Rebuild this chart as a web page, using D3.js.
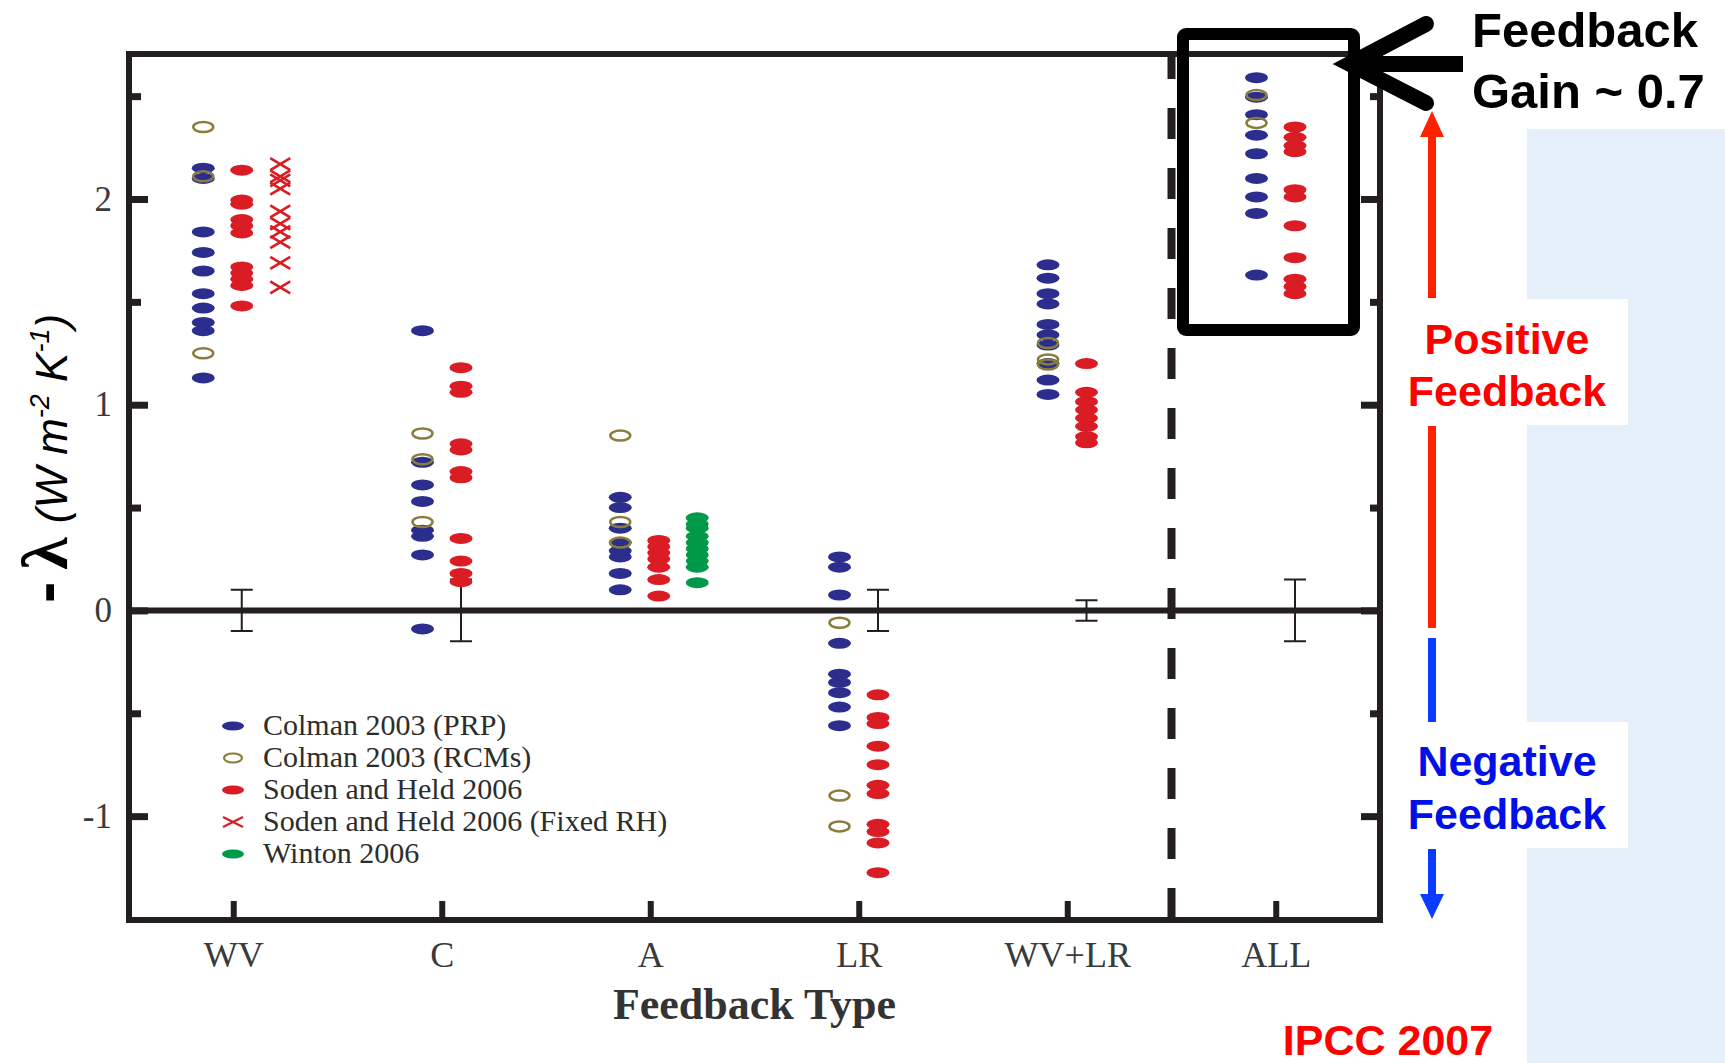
<!DOCTYPE html>
<html>
<head>
<meta charset="utf-8">
<script src="https://cdn.jsdelivr.net/npm/d3@7"></script>
<style>
  body { margin: 0; background: #fff; }
  svg { display: block; }
</style>
</head>
<body>
<div id="chart"></div>
<script>
const width = 1725, height = 1063;

const categories = ['WV', 'C', 'A', 'LR', 'WV+LR', 'ALL'];

// one inner array per category, same order as categories
const colmanPRP = [
  [2.15, 2.10, 1.84, 1.74, 1.65, 1.54, 1.47, 1.40, 1.36, 1.13],
  [1.36, 0.72, 0.61, 0.53, 0.39, 0.36, 0.27, -0.09],
  [0.55, 0.50, 0.40, 0.33, 0.29, 0.26, 0.18, 0.10],
  [0.26, 0.21, 0.075, -0.16, -0.31, -0.35, -0.40, -0.47, -0.56],
  [1.68, 1.615, 1.54, 1.49, 1.39, 1.34, 1.29, 1.20, 1.12, 1.05],
  [2.59, 2.495, 2.41, 2.31, 2.22, 2.10, 2.01, 1.93, 1.63]
];
const colmanRCM = [
  [2.35, 2.11, 1.25],
  [0.86, 0.735, 0.43],
  [0.85, 0.43, 0.33],
  [-0.06, -0.90, -1.05],
  [1.30, 1.22, 1.195],
  [2.505, 2.37]
];
const sodenHeld = [
  [2.14, 1.995, 1.975, 1.90, 1.87, 1.835, 1.67, 1.64, 1.61, 1.58, 1.48],
  [1.18, 1.09, 1.06, 0.81, 0.78, 0.675, 0.645, 0.35, 0.24, 0.18, 0.14],
  [0.34, 0.31, 0.28, 0.25, 0.21, 0.15, 0.07],
  [-0.41, -0.52, -0.55, -0.66, -0.75, -0.85, -0.89, -1.04, -1.075, -1.13, -1.275],
  [1.20, 1.06, 1.015, 0.975, 0.935, 0.895, 0.845, 0.815],
  [2.35, 2.30, 2.26, 2.23, 2.045, 2.01, 1.87, 1.715, 1.61, 1.575, 1.54]
];
const sodenHeldFixedRH = [
  [2.17, 2.11, 2.09, 2.05, 1.94, 1.88, 1.84, 1.79, 1.69, 1.57],
  [], [], [], [], []
];
const winton = [
  [], [],
  [0.45, 0.42, 0.40, 0.36, 0.33, 0.30, 0.27, 0.24, 0.21, 0.135],
  [], [], []
];
// half width of the error bar for each category (null = none)
const errorHalf = [0.1, 0.15, null, 0.1, 0.05, 0.15];

const majorTicks = [-1, 0, 1, 2];
const minorTicks = [-0.5, 0.5, 1.5, 2.5];

const legendLabels = [
  'Colman 2003 (PRP)',
  'Colman 2003 (RCMs)',
  'Soden and Held 2006',
  'Soden and Held 2006 (Fixed RH)',
  'Winton 2006'
];

const col = {
  blue: '#2b2e8c', olive: '#8b7c3c', red: '#da1c24', green: '#00994a',
  axis: '#231f20', label: '#3a3a3a'
};

const fLeft = 129, fRight = 1380, fTop = 54, fBottom = 920;

const svg = d3.select('#chart').append('svg')
  .attr('width', width)
  .attr('height', height);

const x = d3.scalePoint()
  .domain(categories)
  .range([fLeft, fRight])
  .padding(0.5);

const y = d3.scaleLinear()
  .domain([-1.5, 2.7])
  .range([fBottom - 1, fTop + 1]);

// column slot within a category: 2 columns side by side, or 3 when a third series is there
const nCols = categories.map((c, i) => (sodenHeldFixedRH[i].length || winton[i].length) ? 3 : 2);
const slotX = (i, slot) => {
  const cx = x(categories[i]);
  if (nCols[i] === 3) return cx + [-30, 8.5, 47][slot];
  return cx + [-19.25, 19.25][slot];
};

// ---- background annotations (light blue panel) ----
svg.append('rect')
  .attr('x', 1527).attr('y', 129)
  .attr('width', width - 1527).attr('height', height - 129)
  .attr('fill', '#e4effa');
svg.append('rect').attr('x', 1397).attr('y', 299).attr('width', 231).attr('height', 126).attr('fill', '#fff');
svg.append('rect').attr('x', 1397).attr('y', 722).attr('width', 231).attr('height', 126).attr('fill', '#fff');

// ---- axes ----
const axes = svg.append('g').attr('class', 'axes');

function styleAxis(g, w) {
  g.select('.domain').remove();
  g.selectAll('.tick line').attr('stroke', col.axis).attr('stroke-width', w);
  g.selectAll('.tick text')
    .attr('fill', col.label)
    .style('font-family', '"Liberation Serif", serif');
}

axes.append('g')
  .attr('transform', `translate(${fLeft},0)`)
  .call(d3.axisLeft(y).tickValues(majorTicks).tickSize(-19).tickPadding(17).tickFormat(d => String(d)))
  .call(g => styleAxis(g, 7))
  .call(g => g.selectAll('.tick text').style('font-size', '35px'));

axes.append('g')
  .attr('transform', `translate(${fLeft},0)`)
  .call(d3.axisLeft(y).tickValues(minorTicks).tickSize(-12).tickFormat(''))
  .call(g => styleAxis(g, 7));

axes.append('g')
  .attr('transform', `translate(${fRight},0)`)
  .call(d3.axisRight(y).tickValues(majorTicks).tickSize(-19).tickFormat(''))
  .call(g => styleAxis(g, 7));

axes.append('g')
  .attr('transform', `translate(${fRight},0)`)
  .call(d3.axisRight(y).tickValues(minorTicks).tickSize(-10).tickFormat(''))
  .call(g => styleAxis(g, 7));

axes.append('g')
  .attr('transform', `translate(0,${fBottom})`)
  .call(d3.axisBottom(x).tickSize(-19).tickPadding(21))
  .call(g => styleAxis(g, 6))
  .call(g => g.selectAll('.tick text').style('font-size', '36px'));

// frame
svg.append('rect')
  .attr('x', fLeft).attr('y', fTop)
  .attr('width', fRight - fLeft).attr('height', fBottom - fTop)
  .attr('fill', 'none')
  .attr('stroke', col.axis)
  .attr('stroke-width', 6);

// zero line
svg.append('line')
  .attr('x1', fLeft).attr('x2', fRight)
  .attr('y1', y(0)).attr('y2', y(0))
  .attr('stroke', col.axis)
  .attr('stroke-width', 6);

// dashed separator before ALL
const sepX = (x('WV+LR') + x('ALL')) / 2;
svg.append('line')
  .attr('x1', sepX).attr('x2', sepX)
  .attr('y1', fTop).attr('y2', fBottom)
  .attr('stroke', col.axis)
  .attr('stroke-width', 8)
  .attr('stroke-dasharray', '31,29')
  .attr('stroke-dashoffset', 6);

// error bars (on the Soden and Held column)
const eb = svg.append('g').attr('class', 'errorbars')
  .attr('stroke', col.axis).attr('stroke-width', 2).attr('fill', 'none');
errorHalf.forEach((h, i) => {
  if (h == null) return;
  const ex = slotX(i, 1);
  eb.append('path')
    .attr('d', `M${ex - 11},${y(h)}H${ex + 11}M${ex},${y(h)}V${y(-h)}M${ex - 11},${y(-h)}H${ex + 11}`);
});

// ---- points ----
const pts = svg.append('g').attr('class', 'points');

function flat(series, slot) {
  const out = [];
  series.forEach((vals, i) => vals.forEach(v => out.push({ i, v, cx: slotX(i, slot) })));
  return out;
}

pts.selectAll('ellipse.prp')
  .data(flat(colmanPRP, 0))
  .join('ellipse').attr('class', 'prp')
  .attr('cx', d => d.cx).attr('cy', d => y(d.v))
  .attr('rx', 11.5).attr('ry', 5.5)
  .attr('fill', col.blue);

pts.selectAll('ellipse.rcm')
  .data(flat(colmanRCM, 0))
  .join('ellipse').attr('class', 'rcm')
  .attr('cx', d => d.cx).attr('cy', d => y(d.v))
  .attr('rx', 10).attr('ry', 5)
  .attr('fill', 'none')
  .attr('stroke', col.olive).attr('stroke-width', 2.5);

pts.selectAll('ellipse.sh')
  .data(flat(sodenHeld, 1))
  .join('ellipse').attr('class', 'sh')
  .attr('cx', d => d.cx).attr('cy', d => y(d.v))
  .attr('rx', 11.5).attr('ry', 5.5)
  .attr('fill', col.red);

pts.selectAll('path.shx')
  .data(flat(sodenHeldFixedRH, 2))
  .join('path').attr('class', 'shx')
  .attr('d', d => `M${d.cx - 10},${y(d.v) - 6}L${d.cx + 10},${y(d.v) + 6}M${d.cx - 10},${y(d.v) + 6}L${d.cx + 10},${y(d.v) - 6}`)
  .attr('stroke', col.red).attr('stroke-width', 2.6).attr('fill', 'none');

pts.selectAll('ellipse.win')
  .data(flat(winton, 2))
  .join('ellipse').attr('class', 'win')
  .attr('cx', d => d.cx).attr('cy', d => y(d.v))
  .attr('rx', 11.5).attr('ry', 5.5)
  .attr('fill', col.green);

// ---- legend ----
const legend = svg.append('g').attr('transform', 'translate(233,726)');
const legendRow = legend.selectAll('g')
  .data(legendLabels)
  .join('g')
  .attr('transform', (d, i) => `translate(0,${i * 32})`);

legendRow.each(function (d, i) {
  const g = d3.select(this);
  if (i === 1) {
    g.append('ellipse').attr('rx', 9).attr('ry', 4.5).attr('fill', 'none')
      .attr('stroke', col.olive).attr('stroke-width', 2.2);
  } else if (i === 3) {
    g.append('path').attr('d', 'M-10,-5L10,5M-10,5L10,-5')
      .attr('stroke', col.red).attr('stroke-width', 2.2);
  } else {
    g.append('ellipse').attr('rx', 11).attr('ry', 4.5)
      .attr('fill', [col.blue, null, col.red, null, col.green][i]);
  }
});
legendRow.append('text')
  .attr('x', 30).attr('y', 9)
  .attr('fill', '#2d2d2d')
  .style('font-family', '"Liberation Serif", serif')
  .style('font-size', '30px')
  .text(d => d);

// ---- axis titles ----
svg.append('text')
  .attr('x', (fLeft + fRight) / 2).attr('y', 1019)
  .attr('text-anchor', 'middle')
  .attr('fill', '#333')
  .style('font-family', '"Liberation Serif", serif')
  .style('font-size', '44px')
  .style('font-weight', 'bold')
  .text('Feedback Type');

const sans = '"Liberation Sans", Arial, sans-serif';

const yl = svg.append('text')
  .attr('transform', 'translate(67,603) rotate(-90)')
  .attr('fill', '#000');
yl.append('tspan')
  .style('font-family', sans)
  .style('font-weight', 'bold').style('font-size', '64px')
  .text('-');
yl.append('tspan').attr('dx', 12)
  .style('font-family', '"Liberation Serif", serif')
  .style('font-weight', 'bold').style('font-size', '66px')
  .text('λ');
yl.append('tspan').attr('dx', 14)
  .style('font-family', sans)
  .style('font-style', 'italic').style('font-size', '44px')
  .text('(W m');
yl.append('tspan').attr('dy', -18)
  .style('font-family', sans)
  .style('font-style', 'italic').style('font-size', '27px')
  .text('-2');
yl.append('tspan').attr('dy', 18)
  .style('font-family', sans)
  .style('font-style', 'italic').style('font-size', '44px')
  .text(' K');
yl.append('tspan').attr('dy', -18)
  .style('font-family', sans)
  .style('font-style', 'italic').style('font-size', '27px')
  .text('-1');
yl.append('tspan').attr('dy', 18)
  .style('font-family', sans)
  .style('font-style', 'italic').style('font-size', '44px')
  .text(')');

// ---- annotations ----
// highlight box around ALL
svg.append('rect')
  .attr('x', 1183).attr('y', 34)
  .attr('width', 171).attr('height', 296)
  .attr('rx', 3)
  .attr('fill', 'none')
  .attr('stroke', '#000')
  .attr('stroke-width', 12);

// big black arrow pointing at the box
svg.append('line')
  .attr('x1', 1355).attr('x2', 1463)
  .attr('y1', 64).attr('y2', 64)
  .attr('stroke', '#000').attr('stroke-width', 16);
svg.append('path')
  .attr('d', 'M1426,24L1350,64L1426,103')
  .attr('fill', 'none')
  .attr('stroke', '#000').attr('stroke-width', 16)
  .attr('stroke-linecap', 'round')
  .attr('stroke-linejoin', 'miter');

svg.append('text').attr('x', 1472).attr('y', 47)
  .style('font-family', sans).style('font-weight', 'bold').style('font-size', '49px')
  .attr('fill', '#000').text('Feedback');
svg.append('text').attr('x', 1472).attr('y', 108)
  .style('font-family', sans).style('font-weight', 'bold').style('font-size', '49px')
  .attr('fill', '#000').text('Gain ~ 0.7');

// positive / negative arrows
const ax = 1432;
svg.append('line').attr('x1', ax).attr('x2', ax).attr('y1', 298).attr('y2', 134)
  .attr('stroke', '#ff2200').attr('stroke-width', 8);
svg.append('path').attr('d', `M${ax},111L${ax + 12},137L${ax - 12},137Z`).attr('fill', '#ff2200');
svg.append('line').attr('x1', ax).attr('x2', ax).attr('y1', 426).attr('y2', 628)
  .attr('stroke', '#ff2200').attr('stroke-width', 8);
svg.append('line').attr('x1', ax).attr('x2', ax).attr('y1', 638).attr('y2', 722)
  .attr('stroke', '#0a3cff').attr('stroke-width', 8);
svg.append('line').attr('x1', ax).attr('x2', ax).attr('y1', 849).attr('y2', 896)
  .attr('stroke', '#0a3cff').attr('stroke-width', 8);
svg.append('path').attr('d', `M${ax},919L${ax + 12},894L${ax - 12},894Z`).attr('fill', '#0a3cff');

const note = (txt, xx, yy, fill) => svg.append('text')
  .attr('x', xx).attr('y', yy).attr('text-anchor', 'middle')
  .style('font-family', sans).style('font-weight', 'bold').style('font-size', '43px')
  .attr('fill', fill).text(txt);
note('Positive', 1507, 354, '#ff0000');
note('Feedback', 1507, 406, '#ff0000');
note('Negative', 1507, 776, '#0010e6');
note('Feedback', 1507, 829, '#0010e6');
note('IPCC 2007', 1388, 1055, '#ff0000');
</script>
</body>
</html>
